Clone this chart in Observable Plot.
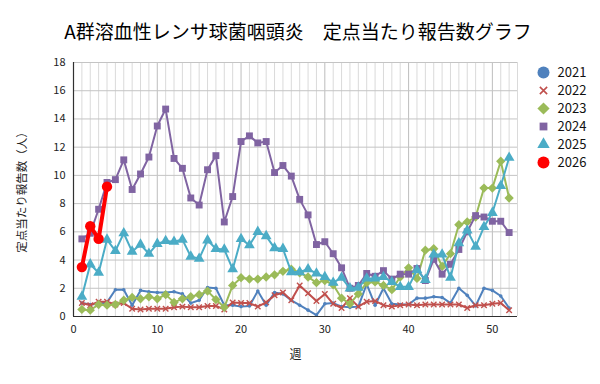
<!DOCTYPE html>
<html>
<head>
<meta charset="utf-8">
<script src="https://cdn.jsdelivr.net/npm/d3@7"></script>
<script src="https://cdn.jsdelivr.net/npm/@observablehq/plot@0.6"></script>
<style>
  body { margin: 0; background: #fff; font-family: "Noto Sans CJK JP", "Noto Sans", sans-serif; }
  #wrap { position: relative; width: 600px; height: 384px; overflow: hidden; background: #fff; }
  #title { position: absolute; left: 0; top: 6px; width: 596px; text-align: center; font-size: 19px; line-height: 50px; height: 50px; color: #000; }
  #chart { position: absolute; left: 0; top: 50px; }
  #legend { position: absolute; left: 530px; top: 48px; }
</style>
</head>
<body>
<div id="wrap">
  <div id="title">A群溶血性レンサ球菌咽頭炎　定点当たり報告数グラフ</div>
  <div id="chart"></div>
  <div id="legend"></div>
</div>
<script>
// ---- data (week 1..52) ----
const years = ["2021", "2022", "2023", "2024", "2025", "2026"];

const v2021 = [0.95, 0.85, 0.9, 1.0, 1.9, 1.9, 0.8, 1.85, 1.75, 1.7, 1.7, 1.75, 1.6,
  0.95, 1.15, 2.05, 2.0, 0.8, 0.8, 0.7, 0.75, 1.8, 0.8, 1.7, 1.6, 1.15,
  0.8, 0.45, 0.1, 0.9, 0.95, 0.7, 0.65, 0.7, 2.3, 0.8, 2.0, 0.9, 0.85,
  0.85, 1.3, 1.3, 1.4, 1.35, 0.95, 2.0, 1.5, 0.75, 2.0, 1.85, 1.45, 0.6];

const v2022 = [0.95, 0.8, 1.05, 1.05, 0.85, 0.95, 0.55, 0.5, 0.55, 0.55, 0.55, 0.65, 0.7,
  0.65, 0.65, 0.75, 0.75, 0.5, 1.0, 0.95, 0.95, 0.7, 1.0, 1.5, 1.7, 1.15,
  2.2, 1.65, 1.1, 1.6, 0.9, 0.6, 1.3, 0.7, 1.05, 1.1, 0.8, 0.7, 0.8,
  0.85, 0.8, 0.85, 0.85, 0.85, 0.85, 0.85, 0.6, 0.8, 0.8, 0.9, 0.95, 0.45];

const v2023 = [0.5, 0.45, 0.85, 0.8, 0.85, 1.15, 1.35, 1.25, 1.4, 1.25, 1.55, 1.0, 1.25,
  1.4, 1.55, 1.8, 1.2, 0.65, 2.2, 2.75, 2.65, 2.65, 2.8, 2.95, 3.2, 3.35,
  3.1, 2.8, 2.4, 2.55, 2.25, 1.3, 0.9, 1.6, 2.4, 2.45, 2.2, 1.9, 2.8,
  3.45, 2.7, 4.7, 4.8, 3.55, 4.45, 6.5, 6.7, 7.05, 9.1, 9.1, 11.0, 8.4];

const v2024 = [5.5, 5.9, 7.6, 9.5, 9.7, 11.1, 9.0, 10.1, 11.3, 13.5, 14.7, 11.2, 10.5,
  8.4, 7.9, 10.4, 11.4, 6.7, 8.5, 12.4, 12.8, 12.3, 12.4, 10.2, 10.7, 9.95,
  8.3, 7.2, 5.1, 5.3, 4.45, 3.45, 2.0, 2.2, 3.05, 2.85, 3.25, 2.65, 3.0,
  3.0, 3.4, 2.55, 4.05, 3.0, 3.7, 4.75, 6.0, 7.15, 7.05, 6.75, 6.75, 5.95];

const v2025 = [1.4, 3.7, 3.1, 5.45, 4.65, 5.9, 4.6, 5.1, 4.45, 5.15, 5.35, 5.3, 5.45,
  4.25, 4.1, 5.4, 4.8, 4.75, 3.35, 5.5, 5.05, 6.0, 5.7, 4.85, 4.8, 3.15,
  3.15, 3.35, 3.05, 2.8, 2.4, 2.75, 2.0, 2.05, 2.7, 2.7, 2.8, 2.45, 2.1,
  2.1, 3.3, 2.6, 4.4, 4.4, 2.75, 5.2, 6.1, 4.95, 6.35, 7.35, 9.25, 11.25];

const v2026 = [3.5, 6.4, 5.5, 9.2];

const xTicks = [0, 10, 20, 30, 40, 50];
const yTicks = [0, 2, 4, 6, 8, 10, 12, 14, 16, 18];
const gridWeeks = [1,2,3,4,5,6,7,8,9,11,12,13,14,15,16,17,18,19,21,22,23,24,25,26,27,28,29,
  31,32,33,34,35,36,37,38,39,41,42,43,44,45,46,47,48,49,51,52,53];
const majorWeeks = [10, 20, 30, 40, 50];

const xLabel = "週";
const yLabel = "定点当たり報告数（人）";

// ---- styles ----
const styles = {
  "2021": {values: v2021, color: "#4F81BD", symbol: "circle",   r: 1.8, sw: 2,   lr: 6,   fill: true},
  "2022": {values: v2022, color: "#C0504D", symbol: "times",    r: 2.6, sw: 2,   lr: 3.4, fill: false},
  "2023": {values: v2023, color: "#9BBB59", symbol: "diamond2", r: 4.2, sw: 2,   lr: 5.5, fill: true},
  "2024": {values: v2024, color: "#8064A2", symbol: "square",   r: 3.9, sw: 2,   lr: 4.4, fill: true},
  "2025": {values: v2025, color: "#4BACC6", symbol: "triangle", r: 4.0, sw: 2,   lr: 4.6, fill: true},
  "2026": {values: v2026, color: "#FF0000", symbol: "circle",   r: 5.2, sw: 4,   lr: 6,   fill: true}
};

const font = '"Noto Sans CJK JP", "Noto Sans", sans-serif';

const seriesMarks = years.flatMap(y => {
  const s = styles[y];
  const rows = s.values.map((v, i) => ({week: i + 1, value: v, year: y}));
  return [
    Plot.line(rows, {x: "week", y: "value", stroke: s.color, strokeWidth: s.sw, curve: "linear"}),
    Plot.dot(rows, s.fill
      ? {x: "week", y: "value", symbol: () => s.symbol, r: s.r, fill: s.color, stroke: "none"}
      : {x: "week", y: "value", symbol: () => s.symbol, r: s.r, fill: "none", stroke: s.color, strokeWidth: 1.4})
  ];
});

const chart = Plot.plot({
  width: 600,
  height: 334,
  marginLeft: 73,
  marginRight: 83,
  marginTop: 12,
  marginBottom: 68,
  style: {fontFamily: font, fontSize: "11px", color: "#222", background: "transparent"},
  symbol: {type: "identity"},
  x: {domain: [0, 53], ticks: xTicks, tickSize: 0, tickPadding: 9, label: null},
  y: {domain: [0, 18], ticks: yTicks, tickSize: 0, tickPadding: 8, label: null},
  marks: [
    Plot.ruleX(gridWeeks, {stroke: "#dadada", strokeWidth: 1}),
    Plot.ruleX(majorWeeks, {stroke: "#bdbdbd", strokeWidth: 1}),
    Plot.ruleY(yTicks.filter(d => d > 0), {stroke: "#c4c4c4", strokeWidth: 1}),
    ...seriesMarks,
    Plot.ruleX([0], {stroke: "#303030", strokeWidth: 1.2}),
    Plot.ruleY([0], {stroke: "#303030", strokeWidth: 1.2}),
    Plot.text([xLabel], {frameAnchor: "bottom", dy: 42, text: d => d, fontSize: 12, fill: "#222"}),
    Plot.text([yLabel], {frameAnchor: "left", dx: -51, rotate: -90, textAnchor: "middle", text: d => d, fontSize: 11.5, fill: "#222"})
  ]
});
document.getElementById("chart").appendChild(chart);

// ---- legend ----
const legendMarks = years.flatMap(y => {
  const s = styles[y];
  const row = [{year: y}];
  return [
    Plot.dot(row, s.fill
      ? {y: "year", frameAnchor: "left", dx: 13, symbol: () => s.symbol, r: s.lr, fill: s.color, stroke: "none"}
      : {y: "year", frameAnchor: "left", dx: 13, symbol: () => s.symbol, r: s.lr, fill: "none", stroke: s.color, strokeWidth: 1.6}),
    Plot.text(row, {y: "year", frameAnchor: "left", dx: 27, text: "year", textAnchor: "start", fontSize: 13, fill: "#111"})
  ];
});
const legend = Plot.plot({
  width: 70,
  height: 140,
  marginTop: 13,
  marginBottom: 16,
  marginLeft: 0,
  marginRight: 0,
  style: {fontFamily: font, background: "transparent"},
  symbol: {type: "identity"},
  y: {type: "point", domain: years, axis: null},
  marks: legendMarks
});
document.getElementById("legend").appendChild(legend);
</script>
</body>
</html>
